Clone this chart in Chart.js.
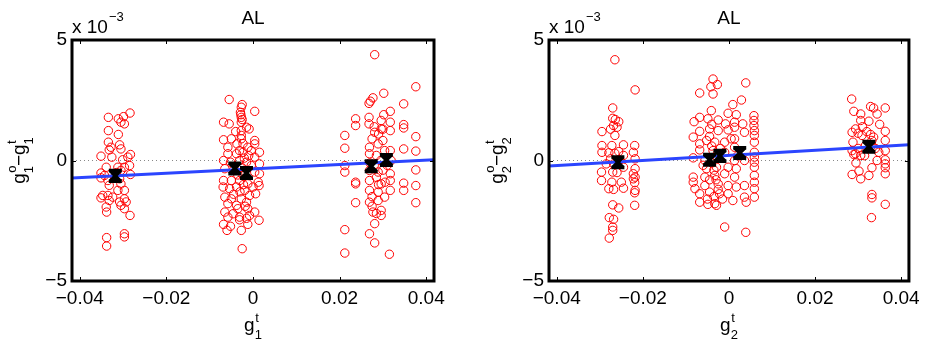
<!DOCTYPE html>
<html>
<head>
<meta charset="utf-8">
<script src="https://cdn.jsdelivr.net/npm/chart.js@4.4.1/dist/chart.umd.min.js"></script>
<style>
html, body { margin: 0; padding: 0; background: #fff; }
#wrap { position: relative; width: 926px; height: 345px; }
.panel { position: absolute; top: 0; width: 463px; height: 345px; }
</style>
</head>
<body>
<div id="wrap">
  <div class="panel" style="left:0"><canvas id="c1" width="463" height="345"></canvas></div>
  <div class="panel" style="left:463px"><canvas id="c2" width="463" height="345"></canvas></div>
</div>
<script>
// axes
const xRange = [-0.0418, 0.0418];
const xTicks = [-0.04, -0.02, 0, 0.02, 0.04];
const xTickLabels = ['\u22120.04', '\u22120.02', '0', '0.02', '0.04'];
const yRange = [-5, 5];            // in units of 1e-3
const yTicks = [-5, 0, 5];
const yTickLabels = ['\u22125', '0', '5'];

// panel 1: g1 residuals (y in 1e-3)
const g1Resid = [
  [-0.0334,1.79],[-0.0311,1.73],[-0.0299,1.82],[-0.0284,1.97],[-0.0305,1.59],[-0.0297,1.52],
  [-0.0334,1.24],[-0.0311,1.08],
  [-0.0334,0.76],[-0.0308,0.65],[-0.0328,0.55],[-0.0332,0.44],[-0.0305,0.48],
  [-0.0351,0.18],[-0.0326,0.14],[-0.0283,0.25],[-0.0301,0.03],[-0.0289,0.14],
  [-0.0285,-0.21],[-0.0312,-0.28],[-0.0339,-0.28],[-0.0297,-0.28],[-0.0305,-0.41],
  [-0.0351,-0.52],[-0.0343,-0.62],[-0.0283,-0.58],[-0.0351,-0.72],[-0.0335,-0.83],[-0.0308,-0.76],
  [-0.0332,-1.03],[-0.0305,-0.97],[-0.0297,-1.24],[-0.0312,-1.24],[-0.0347,-1.45],[-0.0335,-1.45],
  [-0.0324,-1.52],[-0.0351,-1.55],[-0.0297,-1.59],[-0.0332,-1.66],[-0.0308,-1.72],[-0.0293,-1.72],
  [-0.0305,-1.86],[-0.0339,-1.93],[-0.0297,-2.00],[-0.0338,-2.14],[-0.0284,-2.28],
  [-0.0338,-3.20],[-0.0297,-3.04],[-0.0297,-3.17],[-0.0338,-3.55],[-0.0315,-0.50],[-0.0320,-0.70],

  [-0.0055,2.53],[-0.0025,2.32],[-0.0027,2.21],[0.0004,2.04],[-0.0029,2.00],[-0.0027,1.79],
  [-0.0068,1.59],[-0.0055,1.52],[-0.0027,1.59],[-0.0015,1.38],[-0.0027,1.24],[-0.0009,1.31],
  [-0.0068,0.86],[-0.0027,1.04],[0.0004,0.83],[-0.0037,0.69],[0.0004,0.69],[-0.0012,0.55],
  [-0.0058,0.55],[-0.0031,0.41],[-0.0004,0.41],[0.0015,0.34],[-0.0058,0.28],[-0.0038,0.28],
  [-0.0023,0.34],[-0.0068,0.00],[-0.0052,-0.07],[0.0004,0.14],[0.0015,-0.14],[-0.0031,0.00],
  [-0.0015,-0.07],[-0.0004,-0.21],[-0.0065,-0.34],[-0.0023,-0.62],[0.0004,-0.48],[0.0015,-0.55],
  [-0.0068,-0.83],[-0.0050,-0.83],[-0.0031,-0.83],[-0.0012,-0.97],[0.0012,-0.90],[-0.0069,-1.10],
  [-0.0054,-1.17],[-0.0038,-1.10],[-0.0019,-1.24],[0.0000,-1.10],[0.0014,-1.04],[-0.0065,-1.52],
  [-0.0050,-1.59],[-0.0027,-1.59],[-0.0008,-1.45],[0.0006,-1.38],[-0.0058,-1.79],[-0.0038,-1.86],
  [-0.0015,-1.73],[-0.0065,-2.14],[-0.0046,-2.21],[-0.0012,-2.00],[0.0004,-2.14],[-0.0058,-2.35],
  [-0.0031,-2.35],[-0.0008,-2.28],[0.0014,-2.48],[-0.0068,-2.65],[-0.0052,-2.73],[-0.0031,-2.46],
  [-0.0012,-2.65],[-0.0060,-2.90],[-0.0027,-2.90],[-0.0025,-3.66],
  [-0.0027,0.90],[-0.0023,0.70],[-0.0020,0.10],[-0.0025,-0.30],[-0.0020,-0.50],[-0.0030,-1.30],
  [-0.0022,-1.00],[-0.0018,-1.90],[-0.0028,1.90],[-0.0025,1.70],[-0.0035,-0.60],[-0.0045,-0.40],
  [-0.0010,0.20],[-0.0040,1.20],[-0.0050,0.90],[-0.0015,-2.40],[-0.0035,-2.00],[-0.0045,-1.40],

  [0.0281,4.39],[0.0376,3.06],[0.0302,2.79],[0.0277,2.60],[0.0271,2.46],[0.0268,2.37],[0.0348,2.35],
  [0.0317,2.04],[0.0302,1.90],[0.0237,1.73],[0.0268,1.79],[0.0237,1.45],[0.0268,1.52],[0.0296,1.66],
  [0.0317,1.59],[0.0348,1.49],[0.0348,1.35],[0.0281,1.17],[0.0296,1.31],[0.0317,1.24],[0.0212,1.04],
  [0.0376,0.99],[0.0300,0.83],[0.0269,0.55],[0.0289,0.69],[0.0212,0.51],[0.0317,0.41],[0.0348,0.48],
  [0.0376,0.39],[0.0269,0.28],[0.0285,0.21],[0.0304,0.41],[0.0212,-0.21],[0.0319,0.00],[0.0212,-0.48],
  [0.0269,-0.41],[0.0289,-0.48],[0.0317,-0.55],[0.0376,-0.39],[0.0237,-0.90],[0.0237,-0.97],
  [0.0269,-0.83],[0.0296,-0.97],[0.0317,-0.83],[0.0348,-0.94],[0.0348,-1.24],[0.0376,-1.04],
  [0.0269,-1.24],[0.0289,-1.31],[0.0304,-1.52],[0.0317,-1.24],[0.0237,-1.75],[0.0269,-1.73],
  [0.0289,-1.66],[0.0376,-1.75],[0.0277,-2.14],[0.0296,-2.07],[0.0296,-2.28],[0.0281,-2.62],
  [0.0212,-2.87],[0.0269,-3.04],[0.0281,-3.42],[0.0212,-3.84],[0.0315,-3.89],
  [0.0275,0.90],[0.0280,-0.20],[0.0285,-0.70],[0.0290,-1.00],[0.0275,-1.50],[0.0295,0.00],
  [0.0300,-0.40],[0.0305,-0.90],[0.0280,1.40],[0.0290,1.10],[0.0270,-0.10],[0.0300,1.30],
  [0.0310,-0.20],[0.0275,-1.90],[0.0285,-2.20]
];
const g1MeanX = [-0.0318, -0.0042, -0.0015, 0.0273, 0.0308];
const g1MeanY = [-0.64, -0.33, -0.52, -0.24, 0.02];
const g1Err = [0.22, 0.22, 0.22, 0.22, 0.22];
const g1FitY = [-0.73, 0.03];

// panel 2: g2 residuals (y in 1e-3)
const g2Resid = [
  [-0.0265,4.18],[-0.0218,2.93],[-0.0270,2.18],[-0.0270,1.75],[-0.0264,1.70],[-0.0256,1.61],
  [-0.0268,1.45],[-0.0260,1.38],[-0.0265,1.04],[-0.0295,1.20],[-0.0295,0.62],[-0.0272,0.62],
  [-0.0245,0.65],[-0.0219,0.62],[-0.0295,0.34],[-0.0279,0.32],[-0.0256,0.37],[-0.0222,0.34],
  [-0.0275,0.07],[-0.0245,0.21],[-0.0218,0.07],[-0.0285,-0.14],[-0.0268,-0.14],[-0.0245,-0.28],
  [-0.0218,-0.34],[-0.0296,-0.48],[-0.0270,-0.48],[-0.0222,-0.55],[-0.0218,-0.69],[-0.0296,-0.83],
  [-0.0272,-0.90],[-0.0222,-0.76],[-0.0219,-0.92],[-0.0279,-1.17],[-0.0268,-1.20],[-0.0245,-1.15],
  [-0.0218,-1.24],[-0.0219,-1.34],[-0.0270,-1.84],[-0.0256,-1.97],[-0.0219,-1.86],[-0.0278,-2.37],
  [-0.0268,-2.44],[-0.0270,-2.76],[-0.0270,-2.90],[-0.0278,-3.22],
  [-0.0260,-0.50],[-0.0255,0.00],[-0.0265,0.30],[-0.0250,-0.90],[-0.0275,1.30],

  [-0.0037,3.38],[-0.0042,3.06],[-0.0027,3.15],[-0.0037,2.76],[-0.0068,2.80],[0.0039,3.22],
  [0.0029,2.51],[0.0009,2.32],[-0.0041,2.07],[-0.0002,1.96],[0.0017,1.90],[-0.0081,1.61],
  [-0.0068,1.79],[-0.0049,1.73],[-0.0025,1.68],[-0.0008,1.52],[0.0013,1.59],[0.0032,1.52],
  [0.0058,1.86],[0.0058,1.66],[0.0058,1.45],[-0.0083,0.97],[-0.0068,1.21],[-0.0045,1.31],
  [-0.0025,1.24],[-0.0002,1.27],[0.0013,1.38],[0.0036,1.17],[0.0059,1.24],[0.0059,1.04],
  [-0.0068,0.69],[-0.0052,0.83],[-0.0033,0.76],[-0.0010,0.76],[0.0013,0.90],[0.0059,0.76],
  [-0.0068,0.44],[-0.0037,0.41],[-0.0010,0.34],[0.0013,0.55],[0.0059,0.34],[-0.0083,0.11],
  [-0.0056,0.00],[0.0013,0.00],[0.0036,0.00],[0.0059,0.14],[0.0059,-0.07],[-0.0052,-0.34],
  [-0.0029,-0.28],[-0.0002,-0.28],[0.0017,-0.34],[0.0059,-0.28],[-0.0083,-0.69],[-0.0056,-0.69],
  [-0.0033,-0.62],[-0.0010,-0.55],[0.0013,-0.69],[0.0059,-0.62],[-0.0083,-0.90],[-0.0079,-1.17],
  [-0.0056,-1.04],[-0.0025,-0.97],[-0.0002,-1.04],[0.0017,-1.10],[0.0036,-1.04],[0.0059,-0.90],
  [-0.0068,-1.38],[-0.0045,-1.31],[-0.0022,-1.38],[-0.0002,-1.38],[0.0036,-1.52],[0.0059,-1.17],
  [0.0059,-1.52],[-0.0068,-1.73],[-0.0049,-1.82],[-0.0033,-1.79],[-0.0029,-1.86],[0.0009,-1.66],
  [0.0040,-1.73],[-0.0010,-2.76],[0.0039,-2.98],
  [-0.0040,-0.10],[-0.0035,-0.40],[-0.0045,-0.80],[-0.0030,0.20],[-0.0040,0.60],[-0.0025,-1.20],
  [-0.0050,-1.60],[-0.0035,-1.50],[-0.0020,0.50],[-0.0045,1.00],[-0.0030,-0.80],[-0.0015,-1.60],
  [-0.0060,-0.20],[-0.0040,1.50],[0.0005,0.90],[0.0020,0.20],

  [0.0285,2.55],[0.0290,2.04],[0.0329,2.24],[0.0336,2.18],[0.0363,2.18],[0.0344,1.93],[0.0306,1.93],
  [0.0306,1.66],[0.0325,1.63],[0.0294,1.31],[0.0286,1.17],[0.0300,1.13],[0.0309,1.04],[0.0329,1.08],
  [0.0363,1.21],[0.0363,0.83],[0.0336,0.97],[0.0286,0.41],[0.0294,0.28],[0.0306,0.21],[0.0348,0.34],
  [0.0363,0.41],[0.0332,0.83],[0.0288,0.76],[0.0317,0.62],[0.0332,0.62],[0.0363,0.03],[0.0363,-0.14],
  [0.0286,-0.58],[0.0302,-0.44],[0.0306,-0.76],[0.0325,-0.62],[0.0363,-0.30],[0.0363,-0.55],
  [0.0344,0.00],[0.0332,-0.30],[0.0332,-1.41],[0.0332,-1.55],[0.0363,-1.82],[0.0331,-2.37],
  [0.0290,0.25],[0.0300,0.50],[0.0315,0.20],[0.0340,0.50],[0.0295,-0.10],[0.0310,1.40],
  [0.0350,1.50],[0.0320,1.20]
];
const g2MeanX = [-0.0258, -0.0045, -0.0021, 0.0025, 0.0325];
const g2MeanY = [-0.07, 0.03, 0.19, 0.31, 0.57];
const g2Err = [0.22, 0.22, 0.22, 0.22, 0.22];
const g2FitY = [-0.23, 0.65];

const FONT = '"Liberation Sans", Arial, Helvetica, sans-serif';

// error bar caps drawn from the mean/err arrays through the chart scales
const errorBarPlugin = {
  id: 'errorBars',
  afterDatasetsDraw(chart, args, opts) {
    const { ctx, scales: { x, y } } = chart;
    ctx.save();
    ctx.strokeStyle = '#000';
    ctx.lineWidth = 3.5;
    opts.xs.forEach((xv, i) => {
      const px = x.getPixelForValue(xv);
      const top = y.getPixelForValue(opts.ys[i] + opts.err[i]);
      const bot = y.getPixelForValue(opts.ys[i] - opts.err[i]);
      ctx.beginPath();
      ctx.moveTo(px, top); ctx.lineTo(px, bot);
      ctx.moveTo(px - 6.5, top); ctx.lineTo(px + 6.5, top);
      ctx.moveTo(px - 6.5, bot); ctx.lineTo(px + 6.5, bot);
      ctx.stroke();
    });
    ctx.restore();
  }
};

function drawG(ctx, x, base, sub, sup) {
  ctx.font = '19px ' + FONT;
  ctx.fillText('g', x, base);
  const wg = ctx.measureText('g').width;
  ctx.font = '13px ' + FONT;
  ctx.fillText(sub, x + wg, base + 8);
  ctx.fillText(sup, x + wg + 0.5, base - 9);
  const ws = Math.max(ctx.measureText(sub).width, ctx.measureText(sup).width);
  return wg + ws;
}

function gWidth(ctx, sub, sup) {
  ctx.font = '19px ' + FONT;
  const wg = ctx.measureText('g').width;
  ctx.font = '13px ' + FONT;
  return wg + Math.max(ctx.measureText(sub).width, ctx.measureText(sup).width);
}

// frame, inward ticks, title, exponent and axis labels
const framePlugin = {
  id: 'frame',
  afterDraw(chart, args, opts) {
    const { ctx, chartArea: a, scales: { x, y } } = chart;
    ctx.save();
    ctx.strokeStyle = '#000';
    ctx.lineWidth = 1;
    ctx.beginPath();
    xTicks.forEach(v => {
      const px = Math.round(x.getPixelForValue(v)) + 0.5;
      ctx.moveTo(px, a.bottom); ctx.lineTo(px, a.bottom - 4);
      ctx.moveTo(px, a.top); ctx.lineTo(px, a.top + 4);
    });
    yTicks.forEach(v => {
      const py = Math.round(y.getPixelForValue(v)) + 0.5;
      ctx.moveTo(a.left, py); ctx.lineTo(a.left + 4, py);
      ctx.moveTo(a.right, py); ctx.lineTo(a.right - 4, py);
    });
    ctx.stroke();
    ctx.lineWidth = 3;
    ctx.strokeRect(a.left, a.top, a.right - a.left, a.bottom - a.top);

    ctx.fillStyle = '#000';
    ctx.textBaseline = 'alphabetic';
    // title
    ctx.font = '19px ' + FONT;
    ctx.textAlign = 'center';
    ctx.fillText('AL', (a.left + a.right) / 2, 24);
    // exponent
    ctx.textAlign = 'left';
    ctx.fillText('x 10', a.left, 33);
    const w10 = ctx.measureText('x 10').width;
    ctx.font = '13px ' + FONT;
    ctx.fillText('\u22123', a.left + w10 + 1, 21);

    // x label
    const cx = (a.left + a.right) / 2;
    const wx = gWidth(ctx, opts.idx, 't');
    drawG(ctx, cx - wx / 2, 331, opts.idx, 't');

    // y label, rotated
    ctx.save();
    ctx.translate(opts.yLabelX, (a.top + a.bottom) / 2);
    ctx.rotate(-Math.PI / 2);
    const w1 = gWidth(ctx, opts.idx, 'o');
    ctx.font = '19px ' + FONT;
    const wm = ctx.measureText('\u2212').width;
    const w2 = gWidth(ctx, opts.idx, 't');
    let sx = -(w1 + wm + w2) / 2;
    sx += drawG(ctx, sx, 0, opts.idx, 'o');
    ctx.font = '19px ' + FONT;
    ctx.fillText('\u2212', sx, 0);
    sx += wm;
    drawG(ctx, sx, 0, opts.idx, 't');
    ctx.restore();

    ctx.restore();
  }
};

function makePanel(id, resid, meanX, meanY, err, fitY, idx, leftW, rightPad, yLabelX) {
  const ctx = document.getElementById(id).getContext('2d');
  new Chart(ctx, {
    type: 'scatter',
    data: {
      datasets: [
        {
          // group means
          data: meanX.map((v, i) => ({ x: v, y: meanY[i] })),
          pointStyle: 'crossRot',
          pointRadius: 7.5,
          borderColor: '#000',
          borderWidth: 3.5,
          showLine: false
        },
        {
          // regression line
          type: 'line',
          data: xRange.map((v, i) => ({ x: v, y: fitY[i] })),
          borderColor: '#2b45ff',
          borderWidth: 3,
          pointRadius: 0,
          fill: false
        },
        {
          data: resid.map(p => ({ x: p[0], y: p[1] })),
          pointStyle: 'circle',
          pointRadius: 4.2,
          borderColor: '#ff0000',
          backgroundColor: 'rgba(0,0,0,0)',
          borderWidth: 1
        },
        {
          // zero reference
          type: 'line',
          data: xRange.map(v => ({ x: v, y: 0 })),
          borderColor: '#888',
          borderWidth: 1,
          borderDash: [1, 3],
          pointRadius: 0,
          fill: false
        }
      ]
    },
    options: {
      responsive: false,
      animation: false,
      layout: { padding: { left: 0, top: 40, right: rightPad, bottom: 0 } },
      plugins: {
        legend: { display: false },
        tooltip: { enabled: false },
        errorBars: { xs: meanX, ys: meanY, err: err },
        frame: { idx: idx, yLabelX: yLabelX }
      },
      scales: {
        x: {
          type: 'linear',
          min: xRange[0],
          max: xRange[1],
          afterBuildTicks: s => { s.ticks = xTicks.map(v => ({ value: v })); },
          afterFit: s => { s.height = 64; },
          grid: { display: false, drawTicks: false },
          border: { display: false },
          ticks: {
            autoSkip: false,
            maxRotation: 0,
            padding: 6,
            color: '#000',
            font: { family: FONT, size: 19 },
            callback: (v, i) => xTickLabels[i]
          }
        },
        y: {
          min: yRange[0],
          max: yRange[1],
          afterBuildTicks: s => { s.ticks = yTicks.map(v => ({ value: v })); },
          afterFit: s => { s.width = leftW; },
          grid: { display: false, drawTicks: false },
          border: { display: false },
          ticks: {
            padding: 5,
            color: '#000',
            font: { family: FONT, size: 19 },
            callback: (v, i) => yTickLabels[i]
          }
        }
      }
    },
    plugins: [errorBarPlugin, framePlugin]
  });
}

makePanel('c1', g1Resid, g1MeanX, g1MeanY, g1Err, g1FitY, '1', 72, 29, 25);
makePanel('c2', g2Resid, g2MeanX, g2MeanY, g2Err, g2FitY, '2', 86, 15, 40);
</script>
</body>
</html>
